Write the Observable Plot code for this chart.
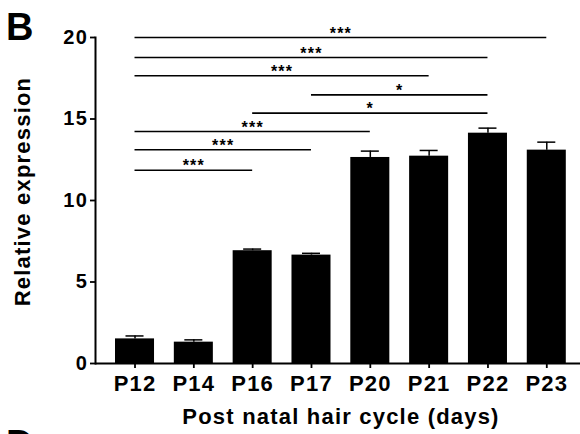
<!DOCTYPE html>
<html><head><meta charset="utf-8">
<script src="https://cdn.jsdelivr.net/npm/d3@7"></script>
<script src="https://cdn.jsdelivr.net/npm/@observablehq/plot@0.6"></script>
<style>
body{margin:0;background:#fff;overflow:hidden}
#wrap{position:relative;width:580px;height:434px;overflow:hidden}
.panel{position:absolute;left:6px;font:bold 38px "Liberation Sans",Arial,sans-serif;line-height:38px;color:#000}
#chart svg text{letter-spacing:1.2px}
</style></head><body>
<div id="wrap"><div id="chart"></div><div class="panel" style="top:8px">B</div><div class="panel" style="top:425px">D</div></div>
<script>
// Categories and values
const days = ["P12", "P14", "P16", "P17", "P20", "P21", "P22", "P23"];
const means = [1.51, 1.31, 6.92, 6.65, 12.64, 12.72, 14.13, 13.09];
const sems = [0.18, 0.14, 0.10, 0.11, 0.39, 0.35, 0.31, 0.49];
const yTicks = [0, 5, 10, 15, 20];
// Significance comparisons
const compFrom = ["P12", "P12", "P12", "P17", "P16", "P12", "P12", "P12"];
const compTo = ["P23", "P22", "P21", "P22", "P22", "P20", "P17", "P16"];
const compY = [20.0, 18.77, 17.65, 16.48, 15.36, 14.23, 13.11, 11.86];
const compLabel = ["***", "***", "***", "*", "*", "***", "***", "***"];
const yLabel = "Relative expression";
const xLabel = "Post natal hair cycle (days)";

const rows = days.map((d, i) => ({day: d, i, mean: means[i], sem: sems[i]}));
const comps = compFrom.map((f, k) => ({a: days.indexOf(f), b: days.indexOf(compTo[k]), y: compY[k], label: compLabel[k]}));

const plot = Plot.plot({
  width: 580, height: 434,
  marginLeft: 95, marginRight: 0, marginTop: 37, marginBottom: 71,
  style: {fontFamily: '"Liberation Sans", Arial, sans-serif', fontWeight: "bold", background: "#fff", color: "#000", overflow: "visible"},
  x: {type: "linear", domain: [0, days.length], range: [105.1, 575.7]},
  y: {domain: [0, 20]},
  marks: [
    Plot.rectY(rows, {x1: d => d.i, x2: d => d.i + 1, y1: 0, y2: "mean", fill: "#000", insetLeft: 9.9, insetRight: 9.9}),
    Plot.ruleX(rows, {x: d => d.i + 0.5, y1: "mean", y2: d => d.mean + d.sem, strokeWidth: 1.5}),
    Plot.ruleY(rows, {x1: d => d.i, x2: d => d.i + 1, y: d => d.mean + d.sem, insetLeft: 20.4, insetRight: 20.4, strokeWidth: 1.5}),
    Plot.ruleY(comps, {x1: d => d.a + 0.5, x2: d => d.b + 0.5, y: "y", strokeWidth: 1.6}),
    Plot.text(comps, {x: d => (d.a + d.b) / 2 + 0.5, y: "y", text: "label", lineAnchor: "bottom", dy: 1, fontSize: 16, fontWeight: "bold"}),
    Plot.ruleY([0], {strokeWidth: 2}),
    Plot.frame({anchor: "left", strokeWidth: 2}),
    Plot.axisY({ticks: yTicks, tickSize: 5, tickPadding: 2.5, fontSize: 20, fontWeight: "bold", strokeWidth: 1.8, label: null}),
    Plot.axisX({ticks: days.map((d, i) => i + 0.5), tickFormat: v => days[Math.round(v - 0.5)], tickSize: 5, tickPadding: 7, fontSize: 22, fontWeight: "bold", strokeWidth: 1.8, label: null}),
    Plot.text([yLabel], {text: d => d, frameAnchor: "left", textAnchor: "middle", rotate: -90, dx: -66, dy: -9, lineAnchor: "bottom", fontSize: 22, fontWeight: "bold"}),
    Plot.text([xLabel], {text: d => d, frameAnchor: "bottom", textAnchor: "middle", dx: 3, dy: 60, lineAnchor: "bottom", fontSize: 22, fontWeight: "bold"})
  ]
});
document.getElementById("chart").appendChild(plot);
</script>
</body></html>
